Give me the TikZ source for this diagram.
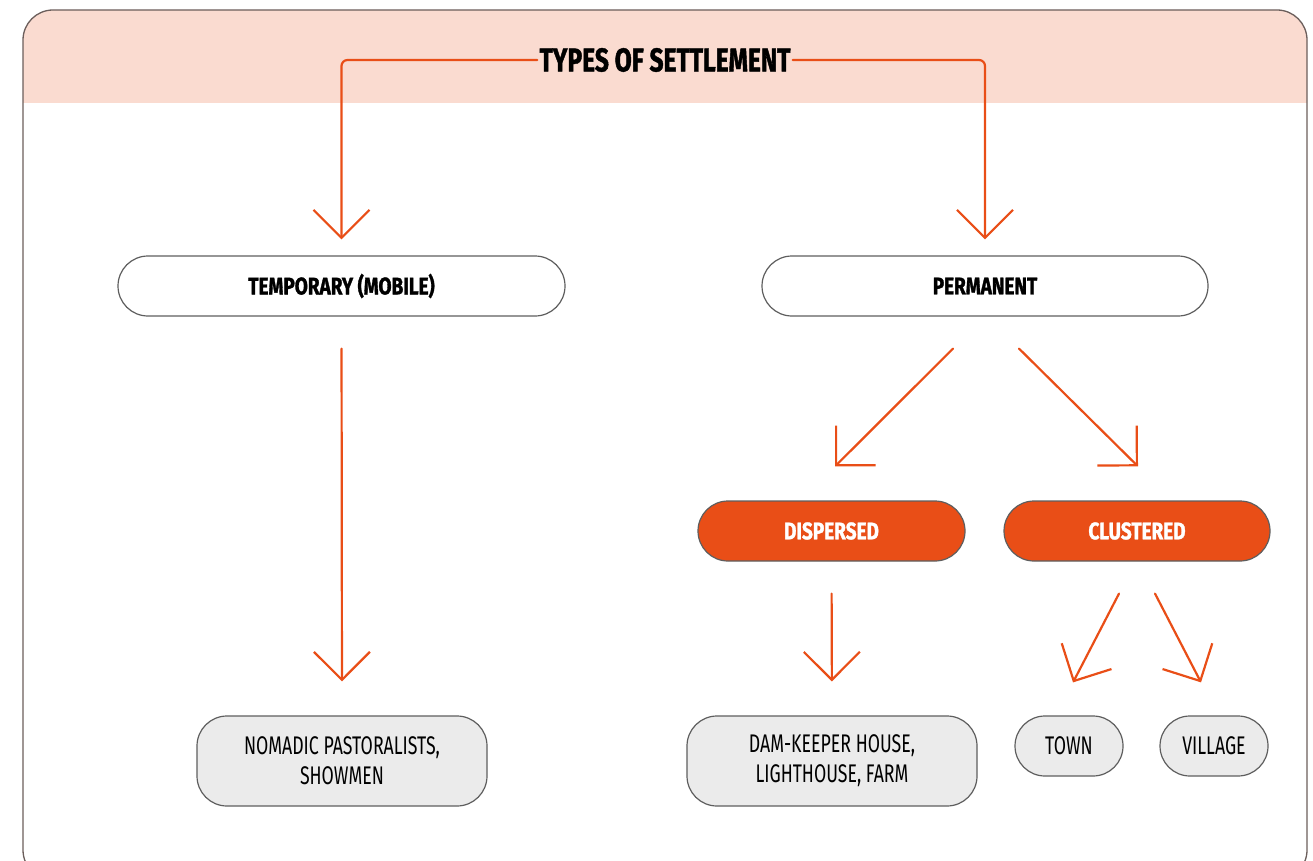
\documentclass[tikz,border=0pt]{standalone}
\usepackage{fontspec}
\newfontfamily\condreg{Fira Sans}[FakeStretch=0.695]
\newfontfamily\condbold{Fira Sans Bold}[FakeStretch=0.79,FakeBold=1.3]
\newfontfamily\condtitle{Fira Sans Bold}[FakeStretch=0.745,FakeBold=1.3]
\usetikzlibrary{arrows.meta,calc}
\definecolor{orng}{HTML}{E94E17}
\definecolor{bandpink}{HTML}{FADBD0}
\definecolor{framegray}{HTML}{6B5E5B}
\definecolor{nodegray}{HTML}{5E5E5E}
\definecolor{fillgray}{HTML}{EBEBEB}
\begin{document}
\begin{tikzpicture}[x=1pt,y=-1pt,
  conn/.style={draw=orng, line width=2.2pt, line cap=round,
    -{Straight Barb[length=28pt,width=56pt,line width=2.2pt]}},
  pill/.style={draw=nodegray, line width=1.2pt, rounded corners=30pt,
    inner sep=0pt, align=center, minimum height=60pt},
  whitepill/.style={pill, fill=white, font=\condbold\fontsize{24}{28}\selectfont},
  orangepill/.style={pill, fill=orng, text=white, font=\condbold\fontsize{24}{28}\selectfont},
  graypill/.style={pill, fill=fillgray, font=\condreg\fontsize{25.5}{30}\selectfont},
  titlestyle/.style={inner sep=2pt, font=\condtitle\fontsize{33}{36}\selectfont}
]
\useasboundingbox (0,0) rectangle (1313,861);
\begin{scope}
  \clip[rounded corners=30pt] (23,10) rectangle (1307,880);
  \fill[bandpink] (0,0) rectangle (1313,103);
\end{scope}
\draw[framegray, line width=1.3pt, rounded corners=30pt] (23,10) rectangle (1307,880);

\node[titlestyle] (title) at (665,60) {TYPES OF SETTLEMENT};

\node[whitepill, minimum width=447pt] (temp) at (341.5,286) {TEMPORARY (MOBILE)};
\node[whitepill, minimum width=446pt] (perm) at (985,286) {PERMANENT};
\node[orangepill, minimum width=267pt] (disp) at (831.5,531) {DISPERSED};
\node[orangepill, minimum width=266pt] (clus) at (1137,531) {CLUSTERED};
\node[graypill, minimum width=290pt, minimum height=90pt] (nomad) at (342,761) {NOMADIC PASTORALISTS,\\SHOWMEN};
\node[graypill, minimum width=290pt, minimum height=90pt] (dam) at (832,761) {DAM-KEEPER HOUSE,\\LIGHTHOUSE, FARM};
\node[graypill, minimum width=108pt] (town) at (1069,746) {TOWN};
\node[graypill, minimum width=108pt] (vill) at (1214,746) {VILLAGE};

\draw[conn, rounded corners=6pt, shorten >=16pt] (title.west) -| (temp.north);
\draw[conn, rounded corners=6pt, shorten >=16pt] (title.east) -| (perm.north);
\draw[conn, shorten <=32pt, shorten >=34pt] (temp.south) -- (nomad.north);
\draw[conn] ([xshift=-32pt,yshift=-32pt]perm.south) -- ([xshift=3.5pt,yshift=34pt]disp.north);
\draw[conn] ([xshift=34pt,yshift=-32pt]perm.south) -- ([xshift=1pt,yshift=34pt]clus.north);
\draw[conn, shorten <=32pt, shorten >=34pt] (disp.south) -- (dam.north);
\draw[conn] ([xshift=-18pt,yshift=-32pt]clus.south) -- ([xshift=4pt,yshift=33pt]town.north);
\draw[conn] ([xshift=18pt,yshift=-32pt]clus.south) -- ([xshift=-13pt,yshift=33pt]vill.north);
\end{tikzpicture}
\end{document}
